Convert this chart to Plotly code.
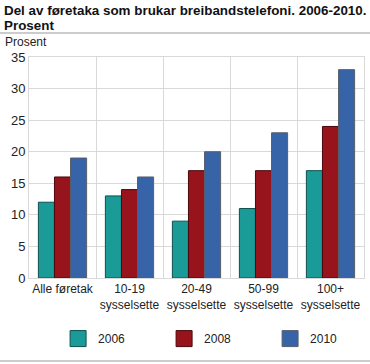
import plotly.graph_objects as go

categories = ["Alle føretak", "10-19<br>sysselsette", "20-49<br>sysselsette", "50-99<br>sysselsette", "100+<br>sysselsette"]
years = ["2006", "2008", "2010"]
v2006 = [12, 13, 9, 11, 17]
v2008 = [16, 14, 17, 17, 24]
v2010 = [19, 16, 20, 23, 33]
y_ticks = [0, 5, 10, 15, 20, 25, 30, 35]

colors = ["#1a9b97", "#97141c", "#3763a8"]
borders = ["#0e4f4d", "#4a080c", "#5a5f6a"]
series = [v2006, v2008, v2010]

FONT = "Arial, Liberation Sans, sans-serif"
fig = go.Figure()
for name, vals, c, b in zip(years, series, colors, borders):
    fig.add_trace(go.Bar(x=categories, y=vals, name=name, marker=dict(color=c, line=dict(color=b, width=1)),
                         showlegend=False))
for name, c, b in zip(years, colors, borders):
    fig.add_trace(go.Scatter(x=[None], y=[None], mode="markers", name=name,
                             marker=dict(symbol="square", size=16, color=c, line=dict(color=b, width=1))))

PH = 221.0
def py(px):
    # convert figure pixel y to paper y (plot top at 57)
    return 1 + (57 - px) / PH

fig.update_layout(
    width=370, height=364,
    margin=dict(l=29, r=6, t=57, b=86),
    paper_bgcolor="white", plot_bgcolor="white",
    font=dict(family=FONT, size=12, color="#222"),
    barmode="group", bargap=0.28, bargroupgap=0,
    showlegend=True,
    legend=dict(orientation="h", xref="container", yref="container", x=0.157, y=0.03,
                xanchor="left", yanchor="bottom", entrywidth=61, entrywidthmode="pixels",
                font=dict(size=12, color="#222"), itemsizing="trace"),
    xaxis=dict(type="category", tickson="boundaries", showgrid=True, gridcolor="#d9d9d9", gridwidth=1,
               showline=True, linecolor="#d9d9d9", mirror=True, ticks="", tickangle=0, automargin=False,
               tickfont=dict(size=12, color="#222"), range=[-0.5, 4.5]),
    yaxis=dict(range=[0, 35], tickvals=y_ticks, showgrid=True, gridcolor="#d9d9d9", gridwidth=1,
               zeroline=False, showline=True, linecolor="#d9d9d9", mirror=True, ticks="", automargin=False,
               tickfont=dict(size=13, color="#222")),
    shapes=[
        dict(type="line", xref="paper", yref="paper", x0=-0.09, x1=1.02, y0=py(33), y1=py(33),
             line=dict(color="#cccccc", width=2)),
        dict(type="line", xref="paper", yref="paper", x0=-0.09, x1=1.02, y0=py(361), y1=py(361),
             line=dict(color="#cccccc", width=2)),
    ],
    annotations=[
        dict(text="<b>Del av føretaka som brukar breibandstelefoni. 2006-2010.</b>", xref="paper", yref="paper",
             x=-0.081, y=py(10), xanchor="left", yanchor="middle", showarrow=False,
             font=dict(family=FONT, size=13.4, color="#111")),
        dict(text="<b>Prosent</b>", xref="paper", yref="paper",
             x=-0.081, y=py(25), xanchor="left", yanchor="middle", showarrow=False,
             font=dict(family=FONT, size=13.4, color="#111")),
        dict(text="Prosent", xref="paper", yref="paper", x=-0.078, y=py(42), xanchor="left",
             yanchor="middle", showarrow=False, font=dict(size=12, color="#222")),
    ],
)
fig.write_html("out.html", config={"displayModeBar": False},
               post_script="document.body.style.margin='0';")
